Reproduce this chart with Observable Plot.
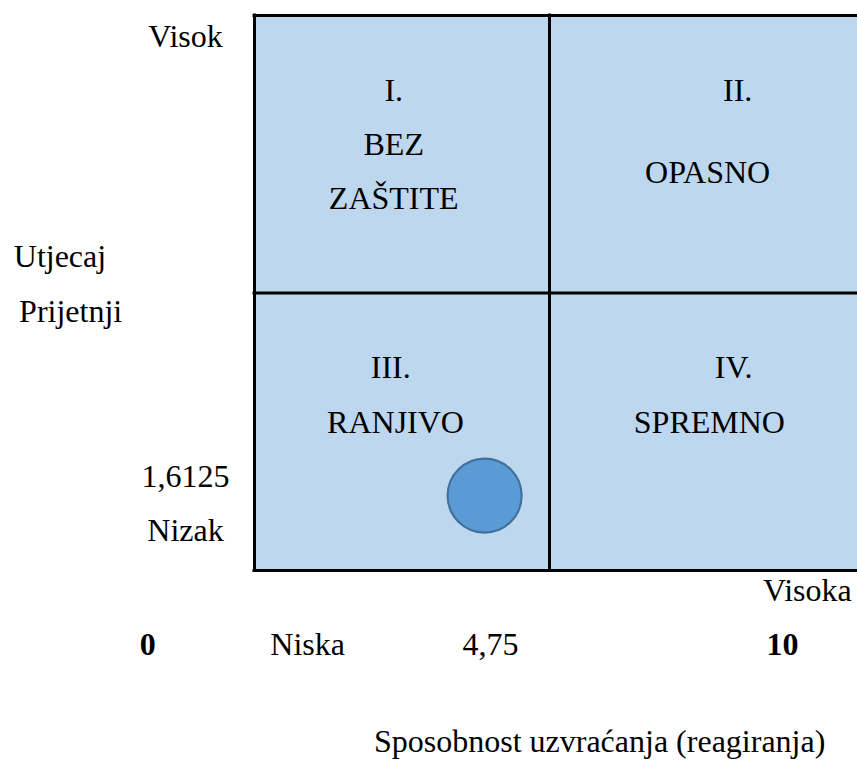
<!DOCTYPE html>
<html>
<head>
<meta charset="utf-8">
<script src="https://cdn.jsdelivr.net/npm/d3@7"></script>
<script src="https://cdn.jsdelivr.net/npm/@observablehq/plot@0.6"></script>
<style>
  html, body { margin: 0; padding: 0; background: #fff; overflow: hidden; }
  #chart { width: 857px; height: 772px; }
</style>
</head>
<body>
<div id="chart"></div>
<script>
// ---- data ----
const quadrantNumerals = ["I.", "II.", "III.", "IV."];
const quadrantNames = [["BEZ", "ZAŠTITE"], ["OPASNO"], ["RANJIVO"], ["SPREMNO"]];
const yLabels = ["Visok", "Utjecaj", "Prijetnji", "1,6125", "Nizak"];
const xLabels = ["0", "Niska", "4,75", "Visoka", "10"];
const xTitle = "Sposobnost uzvraćanja (reagiranja)";
const pointX = [3.9];   // schematic position of the point (capability)
const pointY = [1.35];  // schematic position of the point (threat impact)
const splitX = [5];
const splitY = [5];

// ---- layout (scale units) ----
const FONT = "Liberation Serif, Tinos, Times New Roman, DejaVu Serif, serif";
const X0 = 0, X1 = 10, XR = 10.6, Y0 = 0, Y1 = 10;
const cells = [
  {x1: X0, x2: splitX[0], y1: splitY[0], y2: Y1},
  {x1: splitX[0], x2: XR, y1: splitY[0], y2: Y1},
  {x1: X0, x2: splitX[0], y1: Y0, y2: splitY[0]},
  {x1: splitX[0], x2: XR, y1: Y0, y2: splitY[0]}
];
const numeralPos = [[2.36, 8.46], [8.19, 8.46], [2.31, 3.46], [8.12, 3.46]];
const namePos = [[[2.36, 7.48], [2.36, 6.52]], [[7.68, 6.99]], [[2.39, 2.48]], [[7.71, 2.48]]];

const texts = [];
quadrantNumerals.forEach((t, i) => texts.push({text: t, x: numeralPos[i][0], y: numeralPos[i][1], anchor: "middle", bold: false}));
quadrantNames.forEach((lines, i) => lines.forEach((t, j) => texts.push({text: t, x: namePos[i][j][0], y: namePos[i][j][1], anchor: "middle", bold: false})));
const yLabelPos = [[-1.17, 9.43, "middle"], [-4.08, 5.46, "start"], [-3.99, 4.47, "start"], [-1.17, 1.51, "middle"], [-1.17, 0.53, "middle"]];
yLabels.forEach((t, i) => texts.push({text: t, x: yLabelPos[i][0], y: yLabelPos[i][1], anchor: yLabelPos[i][2], bold: false}));
const xLabelPos = [[-1.81, -1.52, true], [0.90, -1.52, false], [4.0, -1.52, false], [9.37, -0.55, false], [8.95, -1.52, true]];
xLabels.forEach((t, i) => texts.push({text: t, x: xLabelPos[i][0], y: xLabelPos[i][1], anchor: "middle", bold: xLabelPos[i][2]}));
texts.push({text: xTitle, x: 5.85, y: -3.27, anchor: "middle", bold: false});

const textOpts = {x: "x", y: "y", text: "text", lineAnchor: "bottom", fontSize: 32, fontFamily: FONT, fill: "#000"};

const chart = Plot.plot({
  width: 857,
  height: 772,
  margin: 0,
  x: {domain: [X0, X1], range: [254, 844], axis: null},
  y: {domain: [Y0, Y1], range: [570, 15], axis: null},
  style: {background: "#fff", color: "#000"},
  marks: [
    Plot.rect(cells, {x1: "x1", x2: "x2", y1: "y1", y2: "y2", fill: "#BDD7EE", clip: true}),
    Plot.ruleX([X0, ...splitX], {y1: Y0, y2: Y1, stroke: "#000", strokeWidth: 3, strokeLinecap: "square"}),
    Plot.ruleY([Y0, ...splitY, Y1], {x1: X0, x2: XR, stroke: "#000", strokeWidth: 3, strokeLinecap: "square", clip: true}),
    Plot.dot(pointX.map((x, i) => ({x, y: pointY[i]})), {x: "x", y: "y", r: 37, fill: "#5B9BD5", stroke: "#41719C", strokeWidth: 2.2}),
    Plot.text(texts.filter(d => d.anchor === "middle" && !d.bold), {...textOpts, textAnchor: "middle"}),
    Plot.text(texts.filter(d => d.anchor === "start"), {...textOpts, textAnchor: "start"}),
    Plot.text(texts.filter(d => d.bold), {...textOpts, textAnchor: "middle", fontWeight: "bold"})
  ]
});
document.getElementById("chart").appendChild(chart);
</script>
</body>
</html>
